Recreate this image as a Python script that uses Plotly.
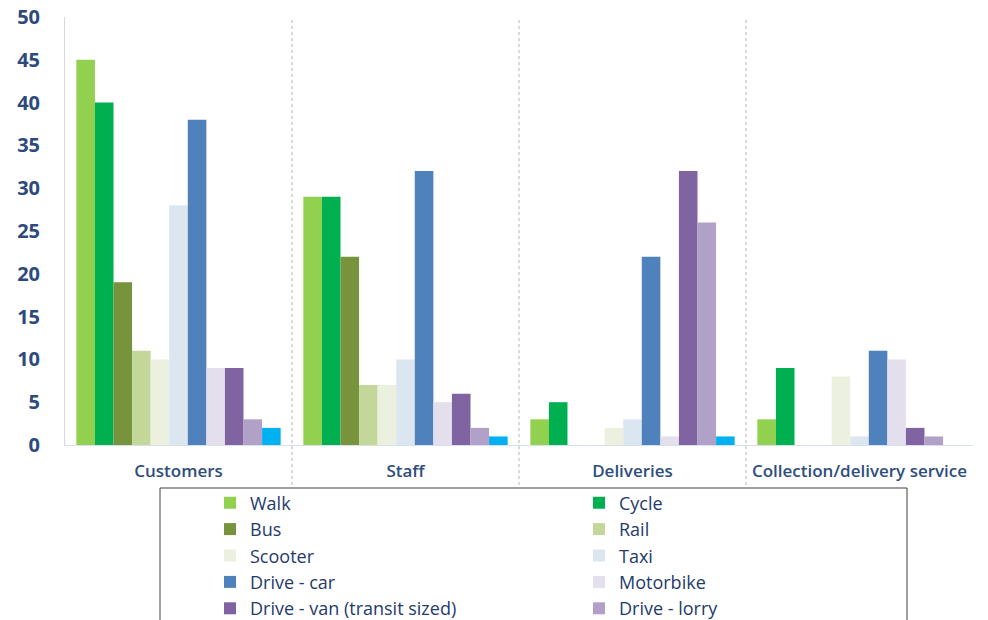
import plotly.graph_objects as go

categories = ["Customers", "Staff", "Deliveries", "Collection/delivery service"]
series_names = ["Walk", "Cycle", "Bus", "Rail", "Scooter", "Taxi", "Drive - car",
                "Motorbike", "Drive - van (transit sized)", "Drive - lorry", "Other"]
walk = [45, 29, 3, 3]
cycle = [40, 29, 5, 9]
bus = [19, 22, 0, 0]
rail = [11, 7, 0, 0]
scooter = [10, 7, 2, 8]
taxi = [28, 10, 3, 1]
drive_car = [38, 32, 22, 11]
motorbike = [9, 5, 1, 10]
drive_van = [9, 6, 32, 2]
drive_lorry = [3, 2, 26, 1]
other = [2, 1, 1, 0]
series_values = [walk, cycle, bus, rail, scooter, taxi, drive_car,
                 motorbike, drive_van, drive_lorry, other]
colors = ["#92D050", "#00B050", "#77933C", "#C4D79B", "#EBF1DE", "#DCE6F1",
          "#4F81BD", "#E4DFEC", "#8064A2", "#B1A0C7", "#00B0F0"]
y_ticks = [0, 5, 10, 15, 20, 25, 30, 35, 40, 45, 50]

fig = go.Figure()
for name, vals, col in zip(series_names, series_values, colors):
    fig.add_trace(go.Bar(name=name, x=categories, y=vals, marker_color=col,
                         marker_line_width=0))

W, H = 988, 620
ml, mr, mt, mb = 65, 15, 17, 175
pw = W - ml - mr
ph = H - mt - mb

def px_to_paper_y(py):
    return (H - mb - py) / ph

def px_to_paper_x(px):
    return (px - ml) / pw

shapes = []
for xs in [0.5, 1.5, 2.5]:
    shapes.append(dict(type="line", xref="x", yref="paper", x0=xs, x1=xs,
                       y0=px_to_paper_y(485), y1=1,
                       line=dict(color="#B4B4B4", width=1, dash="dot")))
# legend frame
shapes.append(dict(type="rect", xref="paper", yref="paper",
                   x0=px_to_paper_x(160), x1=px_to_paper_x(907),
                   y0=px_to_paper_y(488), y1=px_to_paper_y(700),
                   line=dict(color="#404040", width=1), fillcolor="rgba(0,0,0,0)"))

fig.update_layout(
    width=W, height=H,
    margin=dict(l=ml, r=mr, t=mt, b=mb, autoexpand=False),
    paper_bgcolor="white", plot_bgcolor="white",
    barmode="group", bargap=0.1, bargroupgap=0,
    shapes=shapes,
    showlegend=True,
    legend=dict(orientation="h", x=px_to_paper_x(210), xanchor="left",
                y=px_to_paper_y(484.5), yanchor="top",
                entrywidth=324, entrywidthmode="pixels",
                font=dict(family="Open Sans", size=18, color="#1F3B6B"),
                bgcolor="rgba(0,0,0,0)", borderwidth=0, maxheight=300,
                traceorder="normal"),
    xaxis=dict(showline=True, linecolor="#D6E0EE", linewidth=1,
               showgrid=False, ticks="", ticklabelstandoff=11,
               tickfont=dict(family="Open Sans", size=17, color="#2E4E7E", weight=600)),
    yaxis=dict(range=[0, 50], tickvals=y_ticks, showgrid=False, zeroline=False,
               showline=True, linecolor="#D9D9D9", linewidth=1, ticks="",
               ticklabelstandoff=20,
               tickfont=dict(family="Open Sans", size=20, color="#2E4A7D", weight=700)),
)

fig.write_html("out.html")
